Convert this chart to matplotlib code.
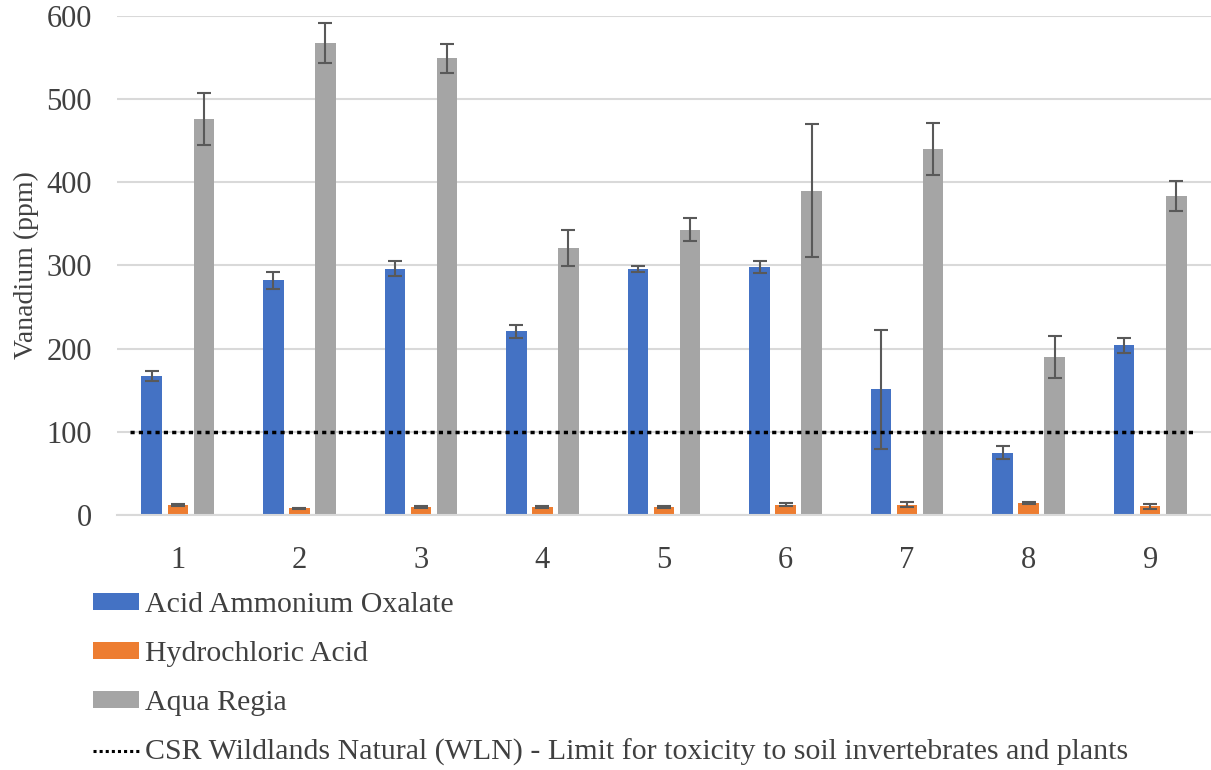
import numpy as np
import matplotlib.pyplot as plt
from matplotlib.patches import Patch
from matplotlib.lines import Line2D

plt.rcParams["font.family"] = ["Liberation Serif", "DejaVu Serif"]

sites = ["1", "2", "3", "4", "5", "6", "7", "8", "9"]

aao = [167, 282, 296, 221, 296, 298, 151, 75, 204]
aao_err = [6, 10, 9, 8, 3.5, 7, 72, 8, 9]

hcl = [12, 8, 10, 9.5, 10, 12.5, 12.5, 14.5, 10.5]
hcl_err = [0.8, 0.8, 1.2, 1, 1, 1.5, 3, 1.2, 3]

aqua = [476, 567, 549, 321, 343, 390, 440, 190, 384]
aqua_err = [31, 24, 17, 22, 14, 80, 31, 25, 18]

wln_limit = 100

labels = ["Acid Ammonium Oxalate", "Hydrochloric Acid", "Aqua Regia"]
wln_label = "CSR Wildlands Natural (WLN) - Limit for toxicity to soil invertebrates and plants"
colors = ["#4472C4", "#ED7D31", "#A5A5A5"]
err_color = "#595959"
text_color = "#404040"

fig = plt.figure(figsize=(12.11, 7.70), dpi=100)
ax = fig.add_axes([117 / 1211, 1 - 515 / 770, 1 - 117 / 1211, (515 - 16) / 770])

x = np.arange(len(sites))
w = 0.169
step = 0.214
for k, (vals, errs) in enumerate([(aao, aao_err), (hcl, hcl_err), (aqua, aqua_err)]):
    ax.bar(x + (k - 1) * step, vals, w, color=colors[k], zorder=2,
           yerr=errs, error_kw=dict(ecolor=err_color, elinewidth=1.5,
                                    capsize=5, capthick=1.5, zorder=3))

ax.hlines(wln_limit, -0.395, 8.35, colors="black", linestyles=(0, (1.2, 1.2)),
          linewidth=2.5, zorder=4)

ax.set_xlim(-0.5, 8.5)
ax.set_ylim(0, 600)
ax.set_yticks(range(0, 601, 100))
ax.set_xticks(x)
ax.set_xticklabels(sites)
ax.tick_params(axis="both", length=0, labelsize=22, colors=text_color)
ax.tick_params(axis="x", pad=22)
ax.tick_params(axis="y", pad=18)
ax.grid(axis="y", color="#D9D9D9", linewidth=1.5, zorder=0)
ax.set_axisbelow(True)
for s in ["top", "right", "left"]:
    ax.spines[s].set_visible(False)
ax.spines["bottom"].set_color("#D9D9D9")
ax.spines["bottom"].set_linewidth(1.5)
ax.set_ylabel("Vanadium (ppm)", fontsize=20, color=text_color)
ax.yaxis.set_label_coords(-(117 - 39) / 1094, 0.5)

handles = [Patch(facecolor=c) for c in colors]
handles.append(Line2D([], [], color="black", linestyle=(0, (1, 1)), linewidth=2.2))
fig.legend(handles, labels + [wln_label],
           loc="upper left", bbox_to_anchor=(93 / 1211, 1 - 592 / 770), frameon=False,
           fontsize=21.5, labelcolor=text_color, handlelength=1.54, handleheight=0.47,
           handletextpad=0.2, labelspacing=0.77, borderaxespad=0, borderpad=0)

fig.savefig("out.png", dpi=100)
